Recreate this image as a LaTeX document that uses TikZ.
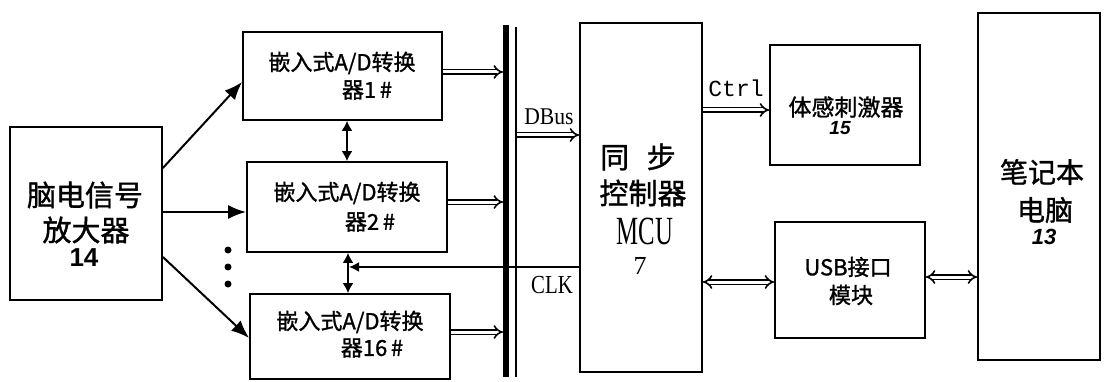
\documentclass[tikz,border=0pt]{standalone}
\usepackage{fontspec}
\usepackage{graphicx}
\setmainfont[FakeBold=1.2]{Noto Sans CJK SC}
\newfontfamily\lserif{Liberation Serif}
\newfontfamily\lmono{Liberation Mono}
\newfontfamily\lsans{Liberation Sans}
\usetikzlibrary{arrows.meta}
\newcommand\myfs[1]{\fontsize{#1}{#1}\selectfont}
\tikzset{
  box/.style={draw, line width=1.8pt, inner sep=0pt},
  txt/.style={inner sep=0pt, anchor=center},
  solidarrow/.style={line width=2pt, -{Latex[length=18pt,width=14pt]}},
  vdbl/.style={line width=1.8pt, {Latex[length=10pt,width=11pt]}-{Latex[length=10pt,width=11pt]}},
  hollow/.style={double, double distance=3pt, line width=1.6pt, -{Implies[scale=1.4]}},
  hollowtwo/.style={double, double distance=3pt, line width=1.6pt, {Implies[scale=1.4]}-{Implies[scale=1.4]}},
}
\begin{document}
\begin{tikzpicture}[x=1pt,y=-1pt]
\useasboundingbox (0,0) rectangle (1107,382);
% boxes
\node[box, minimum width=152pt, minimum height=173pt] (amp) at (86,213.5) {};
\node[box, minimum width=199pt, minimum height=88pt] (b1) at (342.5,76) {};
\node[box, minimum width=200pt, minimum height=90pt] (b2) at (347,207) {};
\node[box, minimum width=200pt, minimum height=85pt] (b3) at (350,336.5) {};
\node[box, minimum width=122pt, minimum height=349pt] (mcu) at (641,197.5) {};
\node[box, minimum width=150pt, minimum height=120pt] (stim) at (845,105) {};
\node[box, minimum width=150pt, minimum height=116pt] (usb) at (850,280) {};
\node[box, minimum width=122pt, minimum height=347pt] (pc) at (1039,186.5) {};
% texts
\node[txt] (ampa) at (85,195) {\myfs{29}脑电信号};
\node[txt] (ampb) at (86,230) {\myfs{29}放大器};
\node[txt] (ampc) at (84,258) {\myfs{26}\lsans\bfseries 14};
\node[txt] (b1a) at (342,63) {\myfs{22}嵌入式A/D转换};
\node[txt] (b1b) at (367,90) {\myfs{22}器1\,\#};
\node[txt] (b2a) at (347,193) {\myfs{22}嵌入式A/D转换};
\node[txt] (b2b) at (370,222) {\myfs{22}器2\,\#};
\node[txt] (b3a) at (350,322) {\myfs{22}嵌入式A/D转换};
\node[txt] (b3b) at (372,348) {\myfs{22}器16\,\#};
\node[txt] (mcua) at (638,157) {\myfs{29}同\hspace{0.6em}步};
\node[txt] (mcub) at (643,193) {\myfs{29}控制器};
\node[txt] (mcuc) at (645,231) {\scalebox{0.62}[1]{\myfs{40}\lserif MCU}};
\node[txt] (mcud) at (640,266) {\myfs{26}\lserif 7};
\node[txt] (stima) at (846,107) {\myfs{23}体感刺激器};
\node[txt] (stimb) at (840,128) {\myfs{19}\lsans\bfseries\itshape 15};
\node[txt] (usba) at (848,267) {\myfs{22}USB接口};
\node[txt] (usbb) at (851,295) {\myfs{22}模块};
\node[txt] (pca) at (1042,172) {\myfs{28}笔记本};
\node[txt] (pcb) at (1045,210) {\myfs{28}电脑};
\node[txt] (pcc) at (1044,237) {\myfs{22}\lsans\bfseries\itshape 13};
\node[txt] (dbus) at (549,117) {\scalebox{0.9}[1]{\myfs{24}\lserif DBus}};
\node[txt] (clk) at (552,285) {\scalebox{0.8}[1]{\myfs{26}\lserif CLK}};
\node[txt] (ctrl) at (736,88) {\myfs{23}\lmono Ctrl};
% bus
\coordinate (busTop) at (506,25);
\coordinate (busBot) at (506,377);
\coordinate (thinTop) at (516,27);
\coordinate (thinBot) at (516,377);
\draw[line width=6pt] (busTop) -- (busBot);
\draw[line width=1.8pt] (thinTop) -- (thinBot);
% A/D outputs to bus
\coordinate (in1) at (503,72);
\coordinate (in2) at (503,202);
\coordinate (in3) at (503,332);
\draw[hollow] (b1.east |- in1) -- (in1);
\draw[hollow] (b2.east |- in2) -- (in2);
\draw[hollow] (b3.east |- in3) -- (in3);
% DBus to MCU
\coordinate (dbs) at (517,135);
\draw[hollow] (dbs) -- (mcu.west |- dbs);
% CLK
\coordinate (clkEnd) at (349,267);
\draw[line width=1.8pt, -{Latex[length=10pt,width=10pt]}] (mcu.west |- clkEnd) -- (clkEnd);
% vertical links between A/D
\coordinate (v1) at (347,0);
\coordinate (v2) at (348,0);
\draw[vdbl] (b1.south -| v1) -- (b2.north -| v1);
\draw[vdbl] (b2.south -| v2) -- (b3.north -| v2);
% amplifier to A/D
\coordinate (a1s) at (0,168);
\coordinate (a1e) at (0,82);
\coordinate (a2) at (0,212);
\coordinate (a3s) at (0,257);
\coordinate (a3e) at (0,338);
\draw[solidarrow] (amp.east |- a1s) -- (b1.west |- a1e);
\draw[solidarrow] (amp.east |- a2) -- (b2.west |- a2);
\draw[solidarrow] (amp.east |- a3s) -- (b3.west |- a3e);
% dots
\fill (228,250) circle (3.5pt);
\fill (228,267) circle (3.5pt);
\fill (228,284) circle (3.5pt);
% MCU outputs
\coordinate (ctrlY) at (0,110);
\coordinate (usbY) at (0,282);
\coordinate (pcY) at (0,277);
\draw[hollow] (mcu.east |- ctrlY) -- (stim.west |- ctrlY);
\draw[hollowtwo] (mcu.east |- usbY) -- (usb.west |- usbY);
\draw[hollowtwo] (usb.east |- pcY) -- (pc.west |- pcY);
\end{tikzpicture}
\end{document}
